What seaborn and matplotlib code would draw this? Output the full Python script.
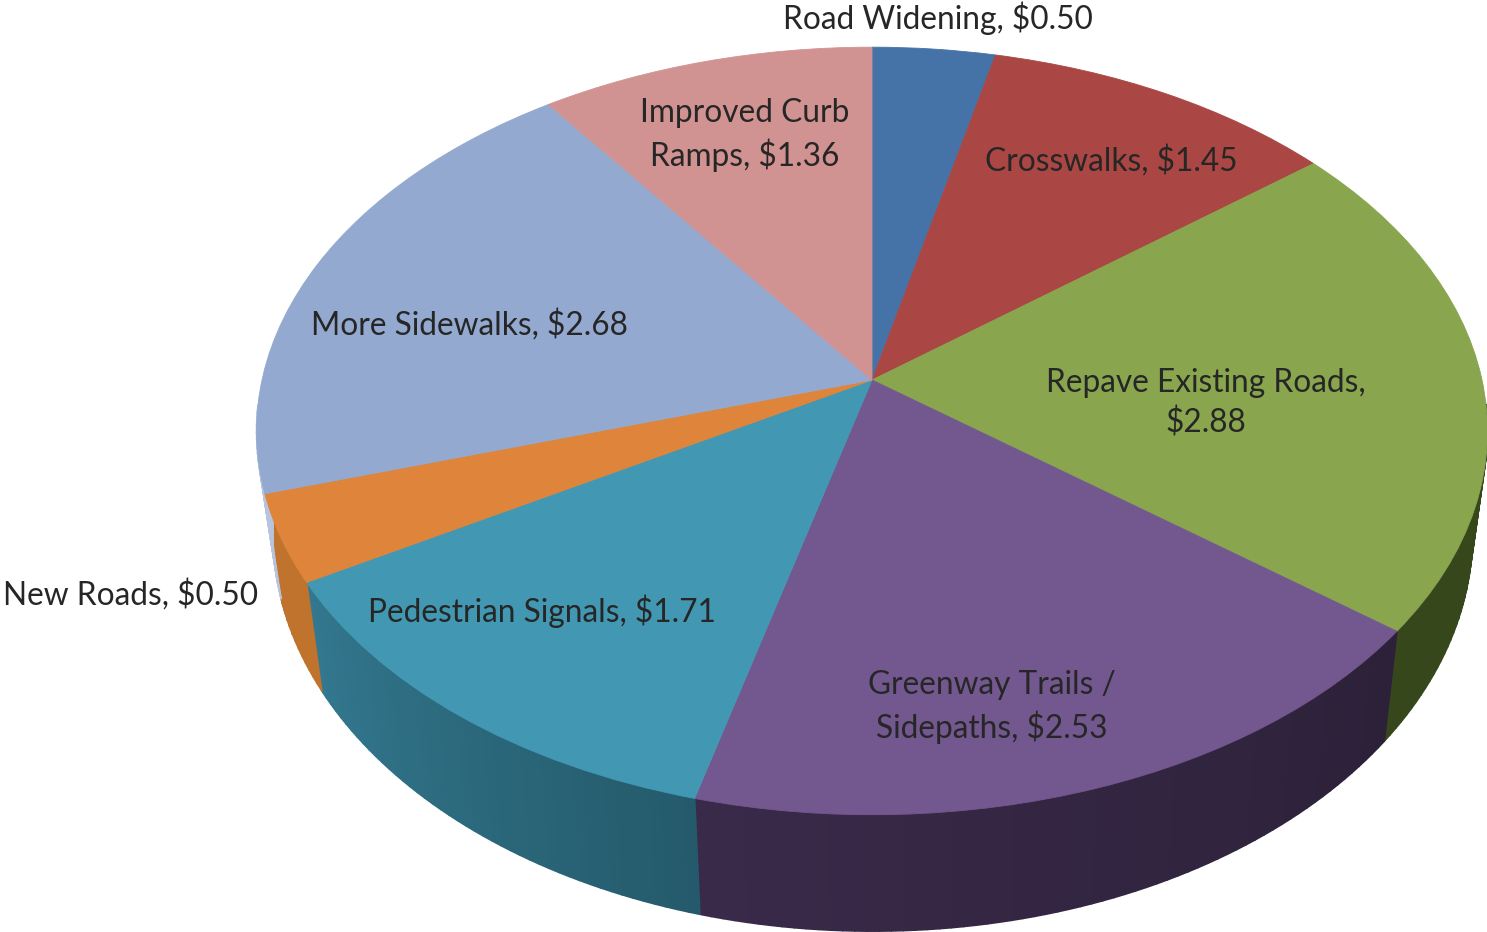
import numpy as np
import matplotlib
matplotlib.use("Agg")
import matplotlib.pyplot as plt
import seaborn as sns
from matplotlib.transforms import Transform
from matplotlib.collections import PolyCollection
from matplotlib.colors import to_rgb

categories = ["Road Widening", "Crosswalks", "Repave Existing Roads", "Greenway Trails / Sidepaths",
              "Pedestrian Signals", "New Roads", "More Sidewalks", "Improved Curb Ramps"]
costs = [0.50, 1.45, 2.88, 2.53, 1.71, 0.50, 2.68, 1.36]
top_colors = ["#4573A7", "#AA4643", "#89A54E", "#73578F", "#4298B2", "#DE843B", "#93A9D0", "#D19392"]
wall_cw_start = ["#2F4F73", "#75302E", "#37471C", "#2C2139", "#245A6B", "#C0732C", "#B8C4DE", "#906564"]
wall_cw_end = ["#2F4F73", "#75302E", "#37471C", "#3A2A4A", "#33788F", "#C0732C", "#B8C4DE", "#906564"]
label_text = ["Road Widening, $0.50", "Crosswalks, $1.45", "Repave Existing Roads,\n$2.88",
              "Greenway Trails /\nSidepaths, $2.53", "Pedestrian Signals, $1.71", "New Roads, $0.50",
              "More Sidewalks, $2.68", "Improved Curb\nRamps, $1.36"]
label_xy = [(938, 18), (1111, 161), (1206, 403), (992, 707), (542, 611), (131, 595), (469, 325), (745, 135)]

W, H = 1487, 932
CX, CY, RX, RY, K = 872.0, 380.0, 610.0, 377.0, 0.1327   # tilted-disc projection
VANISH_X, SLOPE, DEPTH = 900.0, 0.0255, 101.0
FRONT_LIMIT = -0.05   # walls behind this height on the disc are hidden by the top face


class Tilt(Transform):
    input_dims = output_dims = 2

    def transform_non_affine(self, xy):
        xy = np.asarray(xy, float)
        w = 1 + K * xy[:, 1]
        return np.column_stack([CX + RX * xy[:, 0] / w, CY - RY * xy[:, 1] / w])


sns.set_theme(style="white")
plt.rcParams["font.family"] = ["Lato", "DejaVu Sans"]
fig = plt.figure(figsize=(W / 100, H / 100), dpi=100)
ax = fig.add_axes([0, 0, 1, 1])
palette = sns.color_palette(top_colors)
wedges, _ = ax.pie(costs, colors=palette, startangle=90, counterclock=False,
                   wedgeprops=dict(linewidth=0.6))
ax.set_aspect("auto")
ax.set_xlim(0, W)
ax.set_ylim(H, 0)
ax.axis("off")

tilt = Tilt()
to_pixels = tilt + ax.transData
polys, cols = [], []
for w, col, c0, c1 in zip(wedges, palette, wall_cw_start, wall_cw_end):
    w.set_transform(to_pixels)
    w.set_edgecolor(col)
    w.set_zorder(3)
    n = max(2, int(abs(w.theta2 - w.theta1)))
    # theta runs anticlockwise, so walk from the clockwise end of the wedge back
    ang = np.radians(np.linspace(w.theta2, w.theta1, n + 1))
    uv = np.column_stack([np.cos(ang), np.sin(ang)])
    top = tilt.transform(uv)
    bot = top + np.column_stack([(VANISH_X - top[:, 0]) * SLOPE, DEPTH / (1 + K * uv[:, 1])])
    a, b = np.array(to_rgb(c0)), np.array(to_rgb(c1))
    for i in range(n):
        if max(uv[i, 1], uv[i + 1, 1]) > FRONT_LIMIT:
            continue
        polys.append([top[i], top[i + 1], bot[i + 1], bot[i]])
        cols.append(a + (b - a) * (i + 0.5) / n)
ax.add_collection(PolyCollection(polys, facecolors=cols, edgecolors=cols, linewidths=1.2, zorder=2))

for txt, (x, y) in zip(label_text, label_xy):
    ax.text(x, y, txt, ha="center", va="center", fontsize=22.8, color="#262626",
            linespacing=1.38, zorder=5)

fig.savefig("out.png", dpi=100, facecolor="white")
